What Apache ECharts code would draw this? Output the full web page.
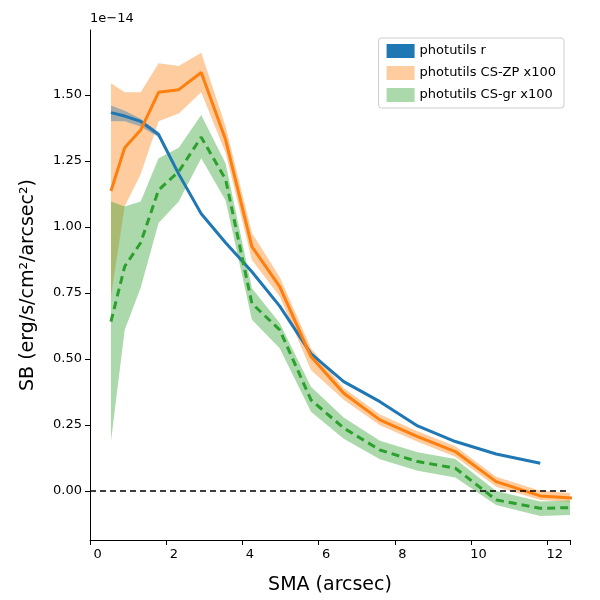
<!DOCTYPE html>
<html>
<head>
<meta charset="utf-8">
<script src="https://cdn.jsdelivr.net/npm/echarts@6/dist/echarts.min.js"></script>
<style>html,body{margin:0;background:#fff}#c{width:600px;height:600px}</style>
</head>
<body>
<div id="c"></div>
<script>
// data in units of 1e-14
var sma = [0.35, 0.71, 1.13, 1.6, 2.13, 2.72, 3.36, 4.05, 4.78, 5.6, 6.46, 7.41, 8.4, 9.39, 10.46, 11.62, 12.8];
var rVal = [1.433, 1.42, 1.40, 1.35, 1.20, 1.05, 0.94, 0.83, 0.70, 0.52, 0.414, 0.338, 0.246, 0.187, 0.140, 0.105];
var rLo = [1.40, 1.40, 1.38, 1.34, 1.20, 1.05, 0.94, 0.83, 0.70, 0.52, 0.414, 0.338, 0.246, 0.187, 0.140, 0.105];
var rHi = [1.46, 1.44, 1.41, 1.36, 1.20, 1.05, 0.94, 0.83, 0.70, 0.52, 0.414, 0.338, 0.246, 0.187, 0.140, 0.105];
var zpVal = [1.136, 1.30, 1.367, 1.51, 1.52, 1.585, 1.33, 0.925, 0.774, 0.509, 0.37, 0.269, 0.206, 0.149, 0.035, -0.019, -0.03];
var zpLo = [0.736, 1.077, 1.20, 1.40, 1.43, 1.51, 1.28, 0.875, 0.736, 0.458, 0.345, 0.249, 0.186, 0.129, 0.016, -0.034, -0.045];
var zpHi = [1.544, 1.51, 1.51, 1.62, 1.61, 1.66, 1.38, 0.977, 0.81, 0.54, 0.39, 0.289, 0.226, 0.169, 0.054, 0.001, -0.012];
var grVal = [0.641, 0.85, 0.94, 1.14, 1.21, 1.34, 1.18, 0.71, 0.61, 0.345, 0.238, 0.155, 0.111, 0.086, -0.034, -0.066, -0.062];
var grLo = [0.187, 0.61, 0.77, 1.015, 1.096, 1.26, 1.10, 0.648, 0.54, 0.30, 0.198, 0.12, 0.076, 0.051, -0.053, -0.095, -0.09];
var grHi = [1.096, 1.077, 1.096, 1.26, 1.30, 1.424, 1.24, 0.768, 0.636, 0.395, 0.278, 0.19, 0.146, 0.121, 0.0, -0.04, -0.035];
var yTicks = [0, 0.25, 0.5, 0.75, 1.0, 1.25, 1.5];

function pts(v) { return v.map(function (y, i) { return [sma[i], y]; }); }
function bandData(lo, hi) { return lo.map(function (y, i) { return [sma[i], y, hi[i]]; }); }

function bandSeries(name, lo, hi, color) {
  var d = bandData(lo, hi);
  return {
    name: name, type: 'custom', data: d, z: 1, silent: true,
    itemStyle: { color: color },
    renderItem: function (params, api) {
      if (params.dataIndex !== 0) return;
      var up = [], dn = [];
      for (var i = 0; i < d.length; i++) {
        up.push(api.coord([d[i][0], d[i][2]]));
        dn.unshift(api.coord([d[i][0], d[i][1]]));
      }
      return {
        type: 'polygon', shape: { points: up.concat(dn) },
        clipPath: { type: 'rect', shape: { x: params.coordSys.x, y: params.coordSys.y, width: params.coordSys.width, height: params.coordSys.height } },
        style: { fill: color, opacity: 0.4 }
      };
    }
  };
}

var chart = echarts.init(document.getElementById('c'));
var option = {
  animation: false,
  grid: { left: 90, right: 30, top: 30, bottom: 60 },
  legend: {
    right: 36, top: 38, orient: 'vertical', itemWidth: 28, itemHeight: 14, itemGap: 8,
    borderColor: '#ccc', borderWidth: 1, borderRadius: 3, padding: [6, 8],
    textStyle: { fontSize: 13, color: '#000', fontFamily: 'DejaVu Sans' },
    data: [
      { name: 'photutils r', icon: 'rect', itemStyle: { color: '#1f77b4' } },
      { name: 'photutils CS-ZP x100', icon: 'rect', itemStyle: { color: 'rgba(255,127,14,0.4)' } },
      { name: 'photutils CS-gr x100', icon: 'rect', itemStyle: { color: 'rgba(44,160,44,0.4)' } }
    ]
  },
  graphic: [{ type: 'text', left: 90, top: 12, style: { text: '1e\u221214', fontSize: 13, fill: '#000', fontFamily: 'DejaVu Sans' } }],
  xAxis: {
    type: 'value', min: -0.2, max: 12.4, interval: 2,
    name: 'SMA (arcsec)', nameLocation: 'middle', nameGap: 36,
    nameTextStyle: { fontSize: 19, color: '#000', fontFamily: 'DejaVu Sans' },
    axisLine: { onZero: false, lineStyle: { color: '#000' } },
    axisTick: { show: true, lineStyle: { color: '#000' } },
    axisLabel: { color: '#000', fontSize: 13, fontFamily: 'DejaVu Sans', customValues: [0, 2, 4, 6, 8, 10, 12] },
    splitLine: { show: false }
  },
  yAxis: {
    type: 'value', min: -0.186, max: 1.746,
    name: 'SB (erg/s/cm\u00b2/arcsec\u00b2)', nameLocation: 'middle', nameGap: 52,
    nameTextStyle: { fontSize: 19, color: '#000', fontFamily: 'DejaVu Sans' },
    axisLine: { show: true, onZero: false, lineStyle: { color: '#000' } },
    axisTick: { show: true, lineStyle: { color: '#000' }, customValues: yTicks },
    axisLabel: { color: '#000', fontSize: 13, fontFamily: 'DejaVu Sans', customValues: yTicks,
      formatter: function (v) { return v.toFixed(2); } },
    splitLine: { show: false }
  },
  series: [
    bandSeries('photutils CS-ZP x100', zpLo, zpHi, '#ff7f0e'),
    bandSeries('photutils CS-gr x100', grLo, grHi, '#2ca02c'),
    bandSeries('photutils r', rLo, rHi, '#1f77b4'),
    { name: 'photutils r', type: 'line', data: pts(rVal), showSymbol: false, z: 3,
      lineStyle: { color: '#1f77b4', width: 3 }, itemStyle: { color: '#1f77b4' } },
    { name: 'photutils CS-ZP x100', type: 'line', data: pts(zpVal), showSymbol: false, z: 3,
      lineStyle: { color: '#ff7f0e', width: 3 }, itemStyle: { color: '#ff7f0e' } },
    { name: 'photutils CS-gr x100', type: 'line', data: pts(grVal), showSymbol: false, z: 3,
      lineStyle: { color: '#2ca02c', width: 3, type: [8, 5] }, itemStyle: { color: '#2ca02c' },
      markLine: { silent: true, symbol: 'none', label: { show: false },
        lineStyle: { color: '#000', type: [6, 4], width: 1.5 }, data: [{ yAxis: 0 }] } }
  ]
};
chart.setOption(option);
</script>
</body>
</html>
